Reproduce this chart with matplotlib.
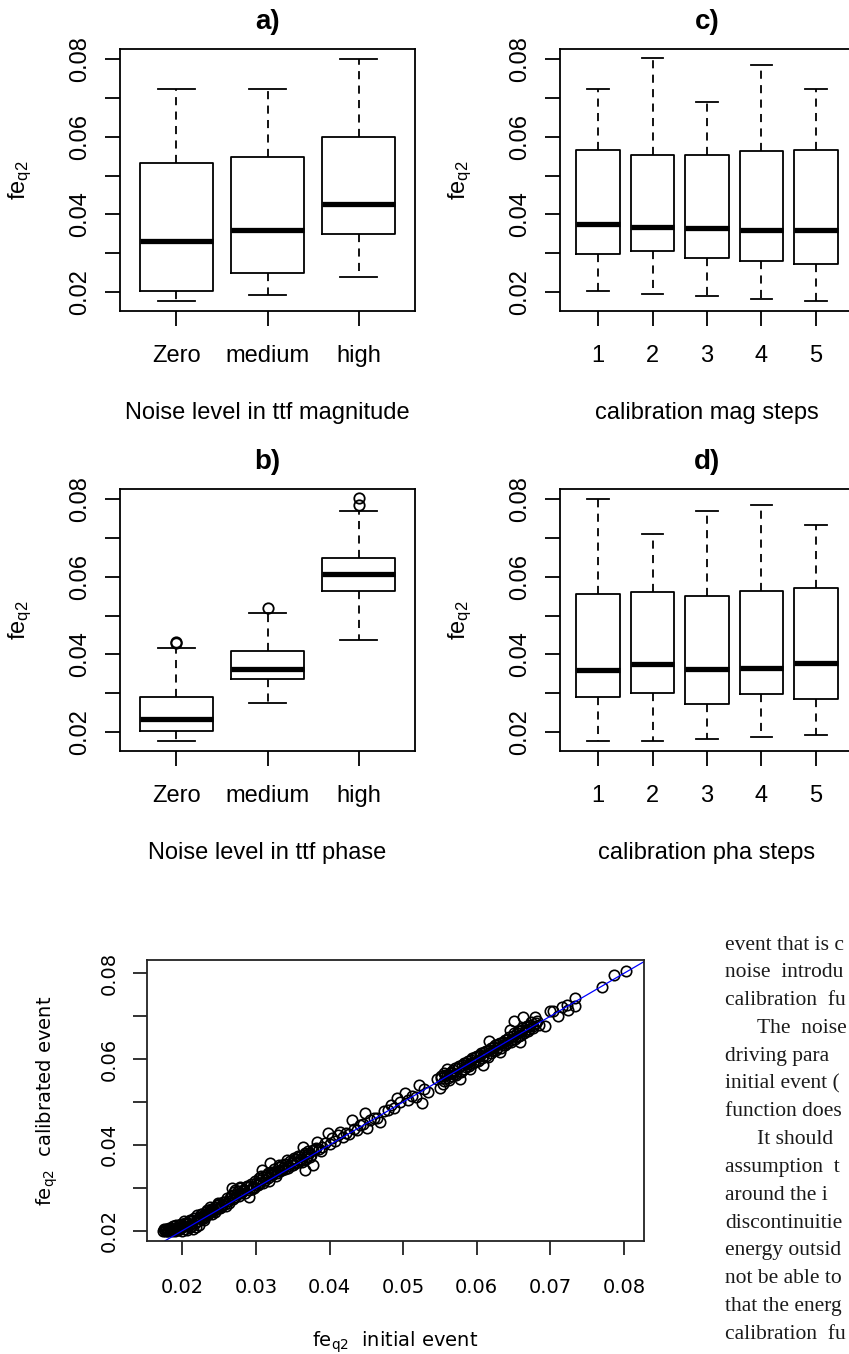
import matplotlib
matplotlib.use('Agg')
import matplotlib.pyplot as plt

plt.rcParams['font.family'] = ['Liberation Sans', 'DejaVu Sans']

# panel a) noise level in ttf magnitude
a_labels = ["Zero", "medium", "high"]
a_whislo = [0.0177, 0.0191, 0.0238]
a_q1 = [0.0203, 0.0248, 0.0349]
a_med = [0.0332, 0.0360, 0.0426]
a_q3 = [0.0534, 0.0549, 0.0600]
a_whishi = [0.0723, 0.0723, 0.0801]
a_fliers = [[], [], []]

# panel b) noise level in ttf phase
b_labels = ["Zero", "medium", "high"]
b_whislo = [0.0178, 0.0274, 0.0438]
b_q1 = [0.0202, 0.0337, 0.0563]
b_med = [0.0234, 0.0362, 0.0607]
b_q3 = [0.0291, 0.0408, 0.0650]
b_whishi = [0.0416, 0.0508, 0.0770]
b_fliers = [[0.0429, 0.0431], [0.0519], [0.0785, 0.0803]]

# panel c) calibration mag steps
c_labels = ["1", "2", "3", "4", "5"]
c_whislo = [0.0202, 0.0195, 0.0190, 0.0183, 0.0177]
c_q1 = [0.0299, 0.0307, 0.0288, 0.0280, 0.0273]
c_med = [0.0376, 0.0367, 0.0366, 0.0360, 0.0359]
c_q3 = [0.0566, 0.0553, 0.0554, 0.0564, 0.0566]
c_whishi = [0.0724, 0.0803, 0.0689, 0.0786, 0.0723]
c_fliers = [[], [], [], [], []]

# panel d) calibration pha steps
d_labels = ["1", "2", "3", "4", "5"]
d_whislo = [0.0178, 0.0178, 0.0182, 0.0186, 0.0191]
d_q1 = [0.0291, 0.0301, 0.0272, 0.0299, 0.0285]
d_med = [0.0360, 0.0375, 0.0363, 0.0366, 0.0379]
d_q3 = [0.0555, 0.0561, 0.0551, 0.0564, 0.0572]
d_whishi = [0.0801, 0.0711, 0.0770, 0.0785, 0.0733]
d_fliers = [[], [], [], [], []]

# scatter: fe_q2 initial event vs calibrated event
init_fe = [
    0.0174, 0.0176, 0.0177, 0.0179, 0.0180, 0.0181, 0.0183, 0.0184, 0.0186, 0.0187,
    0.0188, 0.0190, 0.0191, 0.0192, 0.0194, 0.0195, 0.0197, 0.0198, 0.0200, 0.0201,
    0.0202, 0.0204, 0.0205, 0.0207, 0.0208, 0.0210, 0.0211, 0.0213, 0.0214, 0.0216,
    0.0217, 0.0219, 0.0220, 0.0221, 0.0223, 0.0225, 0.0226, 0.0228, 0.0230, 0.0232,
    0.0234, 0.0236, 0.0238, 0.0240, 0.0243, 0.0245, 0.0247, 0.0249, 0.0251, 0.0254,
    0.0257, 0.0259, 0.0262, 0.0265, 0.0267, 0.0268, 0.0270, 0.0272, 0.0275, 0.0278,
    0.0280, 0.0283, 0.0286, 0.0290, 0.0292, 0.0294, 0.0296, 0.0299, 0.0301, 0.0304,
    0.0306, 0.0308, 0.0309, 0.0312, 0.0315, 0.0317, 0.0319, 0.0320, 0.0322, 0.0325,
    0.0328, 0.0331, 0.0333, 0.0336, 0.0339, 0.0342, 0.0344, 0.0347, 0.0350, 0.0353,
    0.0356, 0.0358, 0.0361, 0.0364, 0.0365, 0.0367, 0.0369, 0.0372, 0.0375, 0.0378,
    0.0380, 0.0383, 0.0386, 0.0390, 0.0394, 0.0398, 0.0400, 0.0404, 0.0408, 0.0411,
    0.0414, 0.0418, 0.0422, 0.0426, 0.0430, 0.0433, 0.0437, 0.0441, 0.0445, 0.0448,
    0.0451, 0.0455, 0.0460, 0.0465, 0.0469, 0.0474, 0.0479, 0.0484, 0.0488, 0.0491,
    0.0496, 0.0503, 0.0507, 0.0512, 0.0517, 0.0521, 0.0525, 0.0528, 0.0534, 0.0546,
    0.0550, 0.0552, 0.0555, 0.0557, 0.0559, 0.0561, 0.0563, 0.0566, 0.0568, 0.0571,
    0.0574, 0.0577, 0.0578, 0.0580, 0.0583, 0.0586, 0.0589, 0.0591, 0.0592, 0.0595,
    0.0598, 0.0601, 0.0604, 0.0607, 0.0609, 0.0610, 0.0613, 0.0616, 0.0617, 0.0620,
    0.0623, 0.0626, 0.0629, 0.0632, 0.0633, 0.0636, 0.0639, 0.0642, 0.0645, 0.0646,
    0.0649, 0.0651, 0.0652, 0.0655, 0.0658, 0.0659, 0.0661, 0.0663, 0.0664, 0.0667,
    0.0670, 0.0673, 0.0676, 0.0679, 0.0680, 0.0684, 0.0693, 0.0700, 0.0704, 0.0710,
    0.0716, 0.0722, 0.0724, 0.0733, 0.0734, 0.0770, 0.0787, 0.0803,
    0.0175, 0.0178, 0.0182, 0.0185, 0.0189, 0.0193, 0.0196, 0.0199, 0.0203, 0.0206,
    0.0209, 0.0212, 0.0215, 0.0218, 0.0222, 0.0224, 0.0227, 0.0229, 0.0231, 0.0233,
    0.0235, 0.0237, 0.0239, 0.0241, 0.0244, 0.0246, 0.0248, 0.0250, 0.0253, 0.0255,
    0.0258, 0.0261, 0.0263, 0.0266, 0.0269, 0.0271, 0.0274, 0.0277, 0.0279, 0.0282,
    0.0285, 0.0288, 0.0291, 0.0293, 0.0297, 0.0300, 0.0303, 0.0305, 0.0307, 0.0310,
    0.0313, 0.0316, 0.0318, 0.0321, 0.0324, 0.0327, 0.0330, 0.0332, 0.0335, 0.0337,
    0.0340, 0.0343, 0.0346, 0.0349, 0.0352, 0.0354, 0.0357, 0.0360, 0.0363, 0.0366,
    0.0368, 0.0371, 0.0374, 0.0377, 0.0382, 0.0388,
    0.0551, 0.0554, 0.0556, 0.0560, 0.0562, 0.0565, 0.0567, 0.0570, 0.0572, 0.0576,
    0.0579, 0.0582, 0.0585, 0.0588, 0.0590, 0.0594, 0.0597, 0.0600, 0.0603, 0.0606,
    0.0608, 0.0612, 0.0615, 0.0619, 0.0622, 0.0625, 0.0628, 0.0631, 0.0635, 0.0638,
    0.0641, 0.0644, 0.0647, 0.0650, 0.0654, 0.0657, 0.0660, 0.0662, 0.0665, 0.0668,
    0.0671, 0.0674, 0.0677, 0.0682,
]
calib_fe = [
    0.0200, 0.0199, 0.0202, 0.0200, 0.0204, 0.0199, 0.0201, 0.0206, 0.0200, 0.0210,
    0.0203, 0.0199, 0.0207, 0.0214, 0.0201, 0.0209, 0.0204, 0.0216, 0.0200, 0.0211,
    0.0223, 0.0205, 0.0215, 0.0201, 0.0219, 0.0208, 0.0226, 0.0212, 0.0203, 0.0230,
    0.0217, 0.0209, 0.0236, 0.0222, 0.0213, 0.0240, 0.0228, 0.0233, 0.0225, 0.0244,
    0.0236, 0.0242, 0.0256, 0.0240, 0.0249, 0.0244, 0.0260, 0.0264, 0.0252, 0.0259,
    0.0266, 0.0258, 0.0270, 0.0276, 0.0299, 0.0284, 0.0290, 0.0279, 0.0293, 0.0303,
    0.0288, 0.0296, 0.0301, 0.0279, 0.0305, 0.0298, 0.0303, 0.0316, 0.0307, 0.0322,
    0.0312, 0.0342, 0.0325, 0.0318, 0.0331, 0.0323, 0.0357, 0.0337, 0.0329, 0.0343,
    0.0334, 0.0348, 0.0339, 0.0352, 0.0344, 0.0365, 0.0350, 0.0358, 0.0353, 0.0366,
    0.0360, 0.0372, 0.0365, 0.0396, 0.0376, 0.0342, 0.0371, 0.0382, 0.0377, 0.0353,
    0.0390, 0.0407, 0.0391, 0.0396, 0.0404, 0.0427, 0.0402, 0.0415, 0.0409, 0.0422,
    0.0431, 0.0418, 0.0428, 0.0425, 0.0458, 0.0438, 0.0434, 0.0446, 0.0449, 0.0474,
    0.0439, 0.0458, 0.0462, 0.0463, 0.0454, 0.0478, 0.0481, 0.0494, 0.0486, 0.0509,
    0.0500, 0.0520, 0.0504, 0.0515, 0.0512, 0.0540, 0.0497, 0.0530, 0.0524, 0.0553,
    0.0532, 0.0556, 0.0550, 0.0564, 0.0578, 0.0557, 0.0568, 0.0561, 0.0574, 0.0566,
    0.0580, 0.0553, 0.0573, 0.0586, 0.0578, 0.0592, 0.0584, 0.0578, 0.0598, 0.0590,
    0.0604, 0.0596, 0.0610, 0.0602, 0.0586, 0.0616, 0.0608, 0.0643, 0.0622, 0.0614,
    0.0629, 0.0621, 0.0635, 0.0617, 0.0627, 0.0641, 0.0633, 0.0648, 0.0668, 0.0640,
    0.0655, 0.0689, 0.0647, 0.0661, 0.0653, 0.0641, 0.0668, 0.0699, 0.0660, 0.0674,
    0.0666, 0.0680, 0.0672, 0.0697, 0.0684, 0.0679, 0.0677, 0.0711, 0.0713, 0.0701,
    0.0721, 0.0726, 0.0714, 0.0724, 0.0742, 0.0769, 0.0796, 0.0806,
    0.0203, 0.0205, 0.0207, 0.0203, 0.0211, 0.0205, 0.0214, 0.0208, 0.0218, 0.0210,
    0.0222, 0.0216, 0.0225, 0.0220, 0.0229, 0.0232, 0.0238, 0.0230, 0.0237, 0.0248,
    0.0240, 0.0247, 0.0251, 0.0245, 0.0256, 0.0250, 0.0254, 0.0262, 0.0255, 0.0268,
    0.0262, 0.0276, 0.0265, 0.0281, 0.0273, 0.0294, 0.0286, 0.0282, 0.0299, 0.0292,
    0.0288, 0.0305, 0.0296, 0.0310, 0.0300, 0.0312, 0.0306, 0.0318, 0.0328, 0.0312,
    0.0325, 0.0334, 0.0317, 0.0333, 0.0338, 0.0328, 0.0340, 0.0352, 0.0341, 0.0347,
    0.0356, 0.0346, 0.0362, 0.0352, 0.0370, 0.0357, 0.0375, 0.0368, 0.0361, 0.0381,
    0.0366, 0.0386, 0.0372, 0.0388, 0.0393, 0.0386,
    0.0560, 0.0543, 0.0568, 0.0564, 0.0552, 0.0571, 0.0567, 0.0580, 0.0563, 0.0584,
    0.0570, 0.0590, 0.0581, 0.0596, 0.0588, 0.0602, 0.0593, 0.0608, 0.0598, 0.0614,
    0.0608, 0.0620, 0.0606, 0.0626, 0.0619, 0.0633, 0.0626, 0.0638, 0.0632, 0.0644,
    0.0638, 0.0651, 0.0645, 0.0660, 0.0651, 0.0665, 0.0657, 0.0672, 0.0665, 0.0678,
    0.0670, 0.0686, 0.0676, 0.0688,
]

# running text of the page, right of the scatter plot (cut at the page edge)
page_lines = [
    ("event that is c", False),
    ("noise  introdu", False),
    ("calibration  fu", False),
    ("The  noise", True),
    ("driving para", False),
    ("initial event (", False),
    ("function does", False),
    ("It should", True),
    ("assumption  t", False),
    ("around the i", False),
    ("discontinuitie", False),
    ("energy outsid", False),
    ("not be able to", False),
    ("that the energ", False),
    ("calibration  fu", False),
]

W, H = 849, 1354
LW = 1.3
fig = plt.figure(figsize=(W / 100, H / 100), dpi=100)


def px_axes(x0, y0, x1, y1):
    return fig.add_axes([x0 / W, 1 - y1 / H, (x1 - x0) / W, (y1 - y0) / H])


def px_text(x, y, s, **kw):
    fig.text(x / W, 1 - y / H, s, **kw)


def box_panel(ax, labels, whislo, q1, med, q3, whishi, fliers):
    n = len(labels)
    stats = []
    for i in range(n):
        stats.append(dict(label=labels[i], whislo=whislo[i], q1=q1[i], med=med[i],
                          q3=q3[i], whishi=whishi[i], fliers=fliers[i]))
    ax.bxp(stats, positions=list(range(1, n + 1)), widths=0.8, capwidths=0.4,
           showfliers=True,
           boxprops=dict(color='black', lw=LW),
           medianprops=dict(color='black', lw=3.8, solid_capstyle='butt'),
           whiskerprops=dict(color='black', lw=LW, linestyle=(0, (4.5, 3.5))),
           capprops=dict(color='black', lw=LW),
           flierprops=dict(marker='o', markerfacecolor='none', markeredgecolor='black',
                           markersize=7.5, markeredgewidth=LW))
    ax.set_xlim(0.5 - 0.04 * n, n + 0.5 + 0.04 * n)
    ax.set_ylim(0.0151, 0.0827)
    ax.set_yticks([0.02, 0.03, 0.04, 0.05, 0.06, 0.07, 0.08])
    ax.set_yticklabels(['0.02', '', '0.04', '', '0.06', '', '0.08'],
                       rotation=90, va='center')
    ax.tick_params(axis='both', direction='out', length=10.5, width=LW,
                   labelsize=17, color='black')
    ax.tick_params(axis='y', pad=10)
    ax.tick_params(axis='x', pad=14)
    for s in ax.spines.values():
        s.set_linewidth(LW)


panels = [
    ((120, 49, 415, 311), "a)", "Noise level in ttf magnitude",
     (a_labels, a_whislo, a_q1, a_med, a_q3, a_whishi, a_fliers)),
    ((560, 49, 854, 311), "c)", "calibration mag steps",
     (c_labels, c_whislo, c_q1, c_med, c_q3, c_whishi, c_fliers)),
    ((120, 489, 415, 751), "b)", "Noise level in ttf phase",
     (b_labels, b_whislo, b_q1, b_med, b_q3, b_whishi, b_fliers)),
    ((560, 489, 854, 751), "d)", "calibration pha steps",
     (d_labels, d_whislo, d_q1, d_med, d_q3, d_whishi, d_fliers)),
]

for (x0, y0, x1, y1), title, xlabel, data in panels:
    ax = px_axes(x0, y0, x1, y1)
    box_panel(ax, *data)
    cx = (x0 + min(x1, 854)) / 2
    px_text(cx, y0 - 27, title, fontsize=20, fontweight='bold',
            ha='center', va='center')
    px_text(cx, y1 + 102, xlabel, fontsize=17, ha='center', va='center')
    px_text(x0 - 100, (y0 + y1) / 2, r'$\mathregular{fe_{q2}}$', fontsize=17,
            rotation=90, ha='center', va='center')

# scatter panel
ax = px_axes(146.7, 960, 644.3, 1241)
ax.plot(init_fe, calib_fe, linestyle='none', marker='o', markerfacecolor='none',
        markeredgecolor='black', markersize=7.5, markeredgewidth=1.2)
ax.axline((0.02, 0.02), slope=1, color='#0000ff', lw=0.9)
ax.set_xlim(0.01516, 0.08276)
ax.set_ylim(0.0176, 0.0831)
ax.set_xticks([0.02, 0.03, 0.04, 0.05, 0.06, 0.07, 0.08])
ax.set_xticklabels(['0.02', '0.03', '0.04', '0.05', '0.06', '0.07', '0.08'],
                   family='DejaVu Sans')
ax.set_yticks([0.02, 0.03, 0.04, 0.05, 0.06, 0.07, 0.08])
ax.set_yticklabels(['0.02', '', '0.04', '', '0.06', '', '0.08'],
                   rotation=90, va='center', family='DejaVu Sans')
ax.tick_params(axis='both', direction='out', length=10.3, width=LW,
               labelsize=14, color='#222222')
ax.tick_params(axis='y', pad=10)
ax.tick_params(axis='x', pad=16)
for s in ax.spines.values():
    s.set_linewidth(LW)
    s.set_color('#222222')
px_text(395, 1342, r'fe$_{\mathregular{q2}}$  initial event', fontsize=14,
        family='DejaVu Sans', ha='center', va='center')
px_text(47, 1101, r'fe$_{\mathregular{q2}}$  calibrated event', fontsize=14,
        family='DejaVu Sans', rotation=90, ha='center', va='center')

# page text column
for i, (line, indent) in enumerate(page_lines):
    x = 757 if indent else 725
    px_text(x, 945 + i * 27.8, line, fontsize=15.5, family='Liberation Serif',
            ha='left', va='center', color='#1a1a1a')

fig.savefig('out.png', dpi=100)
plt.close(fig)
